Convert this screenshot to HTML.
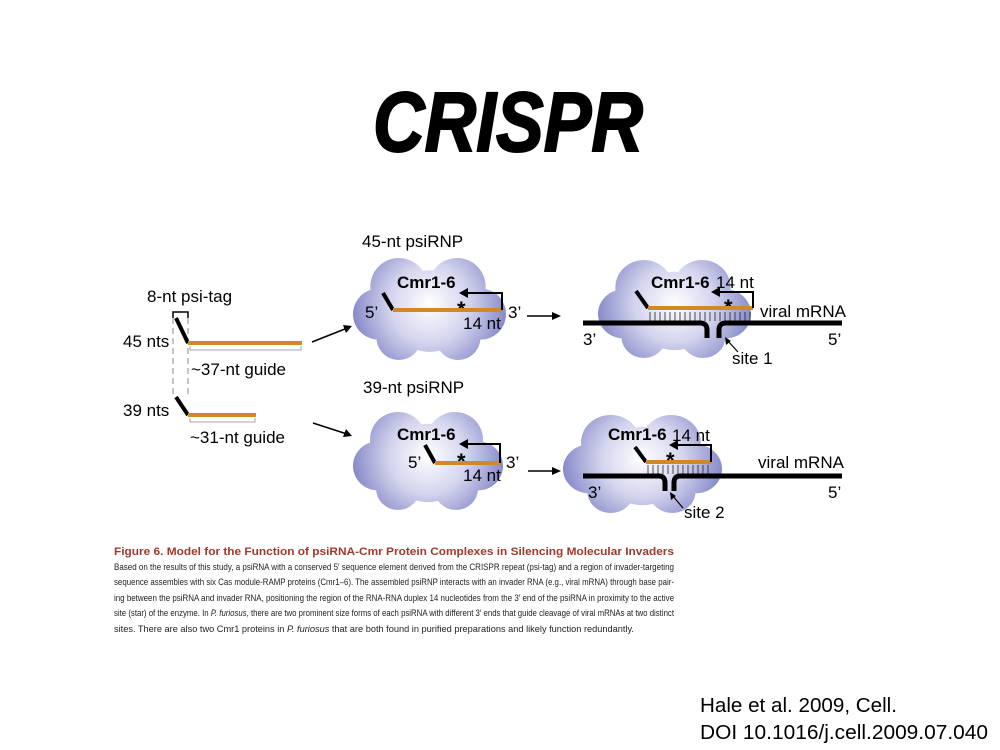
<!DOCTYPE html>
<html><head><meta charset="utf-8"><style>
html,body{margin:0;padding:0;background:#fff;}
svg{display:block;}
text{font-family:"Liberation Sans",sans-serif;}
</style></head><body>
<svg width="1000" height="750" viewBox="0 0 1000 750" xmlns="http://www.w3.org/2000/svg">
<defs>
<radialGradient id="cg" gradientUnits="userSpaceOnUse" cx="75" cy="45" r="85">
<stop offset="0" stop-color="#ffffff"/><stop offset="0.45" stop-color="#d4d5ee"/><stop offset="1" stop-color="#7478c0"/>
</radialGradient>
<g id="cloud">
<circle cx="45" cy="28" r="28"/><circle cx="102" cy="28" r="28"/><circle cx="25" cy="55" r="25"/><circle cx="125" cy="55" r="25"/><circle cx="45" cy="78" r="22"/><circle cx="103" cy="78" r="22"/><circle cx="75" cy="52" r="40"/>
</g>
</defs>
<rect width="1000" height="750" fill="#fff"/>
<text x="373" y="151" font-size="84" font-weight="bold" font-style="italic" textLength="270" lengthAdjust="spacingAndGlyphs" stroke="#000" stroke-width="2">CRISPR</text>

<!-- clouds -->
<g fill="url(#cg)">
<use href="#cloud" transform="translate(353,258) scale(1.02,1.02)"/>
<use href="#cloud" transform="translate(598,260) scale(1.02,0.98)"/>
<use href="#cloud" transform="translate(353,412) scale(1.0,0.98)"/>
<use href="#cloud" transform="translate(563,415) scale(1.06,0.98)"/>
</g>

<!-- left part -->
<g font-size="17">
<text x="147" y="302">8-nt psi-tag</text>
<text x="123" y="347">45 nts</text>
<text x="191" y="375">~37-nt guide</text>
<text x="123" y="416">39 nts</text>
<text x="190" y="443">~31-nt guide</text>
</g>
<path d="M173 318 V312 H188 V318" fill="none" stroke="#000" stroke-width="1.5"/>
<path d="M173 318 V397 M188 318 V397" stroke="#888" stroke-width="1" stroke-dasharray="6,4"/>
<path d="M176 318 L188 343 M176 397 L188 415" stroke="#000" stroke-width="4"/>
<path d="M188 343 H302 M188 415 H256" stroke="#d08a24" stroke-width="4"/>
<path d="M190 346 V350 H301 V346 M190 418 V422 H255 V418" fill="none" stroke="#aaa" stroke-width="1"/>
<path d="M312 342 L350 327 M313 423 L350 435" stroke="#000" stroke-width="1.5"/>
<path d="M352 326 L343 325 L346 333 Z M352 436 L346 429 L343 437 Z" fill="#000"/>

<!-- cloud 1 -->
<text x="362" y="247" font-size="17">45-nt psiRNP</text>
<text x="397" y="288" font-size="17" font-weight="bold">Cmr1-6</text>
<text x="365" y="318" font-size="17">5’</text>
<text x="508" y="318" font-size="17">3’</text>
<text x="463" y="329" font-size="17">14 nt</text>
<text x="457" y="317" font-size="22" font-weight="bold">*</text>
<path d="M383 293 L393 310" stroke="#000" stroke-width="4"/>
<path d="M393 310 H502" stroke="#d08a24" stroke-width="4"/>
<path d="M502 310 V293 H466" fill="none" stroke="#000" stroke-width="2"/>
<path d="M459 293 L468 288 L468 298 Z" fill="#000"/>
<path d="M527 316 H553" stroke="#000" stroke-width="1.5"/><path d="M561 316 L552 312 L552 320 Z" fill="#000"/>

<!-- cloud 2 -->
<path d="M650 312 V321 M655 312 V321 M660 312 V321 M665 312 V321 M670 312 V321 M675 312 V321 M680 312 V321 M685 312 V321 M690 312 V321 M695 312 V321 M700 312 V321 M705 312 V321 M710 312 V321 M715 312 V321 M720 312 V321 M725 312 V321 M730 312 V321 M735 312 V321 M740 312 V321 M745 312 V321 M750 312 V321" stroke="#222" stroke-width="0.8"/>
<text x="651" y="288" font-size="17" font-weight="bold">Cmr1-6</text>
<text x="716" y="288" font-size="17">14 nt</text>
<text x="724" y="315" font-size="22" font-weight="bold">*</text>
<text x="760" y="317" font-size="17">viral mRNA</text>
<text x="583" y="345" font-size="17">3’</text>
<text x="828" y="345" font-size="17">5’</text>
<text x="732" y="364" font-size="17">site 1</text>
<path d="M636 291 L648 308" stroke="#000" stroke-width="4"/>
<path d="M648 308 H753" stroke="#d08a24" stroke-width="4"/>
<path d="M753 308 V292 H718" fill="none" stroke="#000" stroke-width="2"/>
<path d="M711 292 L720 287 L720 297 Z" fill="#000"/>
<path d="M583 323 H700 Q707 323 707 330 V338 M842 323 H726 Q719 323 719 330 V338" fill="none" stroke="#000" stroke-width="5"/>
<path d="M738 352 L727 340" stroke="#000" stroke-width="1.2"/><path d="M725 337 L726 345 L731 341 Z" fill="#000"/>

<!-- cloud 3 -->
<text x="363" y="393" font-size="17">39-nt psiRNP</text>
<text x="397" y="440" font-size="17" font-weight="bold">Cmr1-6</text>
<text x="408" y="468" font-size="17">5’</text>
<text x="506" y="468" font-size="17">3’</text>
<text x="463" y="481" font-size="17">14 nt</text>
<text x="457" y="469" font-size="22" font-weight="bold">*</text>
<path d="M425 445 L435 463" stroke="#000" stroke-width="4"/>
<path d="M435 463 H500" stroke="#d08a24" stroke-width="4"/>
<path d="M500 463 V444 H466" fill="none" stroke="#000" stroke-width="2"/>
<path d="M459 444 L468 439 L468 449 Z" fill="#000"/>
<path d="M528 471 H553" stroke="#000" stroke-width="1.5"/><path d="M561 471 L552 467 L552 475 Z" fill="#000"/>

<!-- cloud 4 -->
<path d="M648 465 V474 M653 465 V474 M658 465 V474 M663 465 V474 M668 465 V474 M673 465 V474 M678 465 V474 M683 465 V474 M688 465 V474 M693 465 V474 M698 465 V474 M703 465 V474 M708 465 V474" stroke="#222" stroke-width="0.8"/>
<text x="608" y="440" font-size="17" font-weight="bold">Cmr1-6</text>
<text x="672" y="441" font-size="17">14 nt</text>
<text x="666" y="468" font-size="22" font-weight="bold">*</text>
<text x="758" y="468" font-size="17">viral mRNA</text>
<text x="588" y="498" font-size="17">3’</text>
<text x="828" y="498" font-size="17">5’</text>
<text x="684" y="518" font-size="17">site 2</text>
<path d="M635 447 L646 462" stroke="#000" stroke-width="4"/>
<path d="M646 462 H711" stroke="#d08a24" stroke-width="4"/>
<path d="M711 462 V445 H676" fill="none" stroke="#000" stroke-width="2"/>
<path d="M669 445 L678 440 L678 450 Z" fill="#000"/>
<path d="M583 476 H659 Q665 476 665 483 V491 M842 476 H680 Q674 476 674 483 V491" fill="none" stroke="#000" stroke-width="5"/>
<path d="M683 508 L672 495" stroke="#000" stroke-width="1.2"/><path d="M670 492 L671 500 L676 496 Z" fill="#000"/>

<!-- caption -->
<text x="114" y="555" font-size="11" font-weight="bold" fill="#a0392d" textLength="560" lengthAdjust="spacingAndGlyphs">Figure 6.  Model for the Function of psiRNA-Cmr Protein Complexes in Silencing Molecular Invaders</text>
<g font-size="9.6" fill="#222">
<text x="114" y="570" textLength="560" lengthAdjust="spacingAndGlyphs">Based on the results of this study, a psiRNA with a conserved 5′ sequence element derived from the CRISPR repeat (psi-tag) and a region of invader-targeting</text>
<text x="114" y="585" textLength="560" lengthAdjust="spacingAndGlyphs">sequence assembles with six Cas module-RAMP proteins (Cmr1–6). The assembled psiRNP interacts with an invader RNA (e.g., viral mRNA) through base pair-</text>
<text x="114" y="601" textLength="560" lengthAdjust="spacingAndGlyphs">ing between the psiRNA and invader RNA, positioning the region of the RNA-RNA duplex 14 nucleotides from the 3′ end of the psiRNA in proximity to the active</text>
<text x="114" y="616" textLength="560" lengthAdjust="spacingAndGlyphs">site (star) of the enzyme. In <tspan font-style="italic">P. furiosus</tspan>, there are two prominent size forms of each psiRNA with different 3′ ends that guide cleavage of viral mRNAs at two distinct</text>
<text x="114" y="632" textLength="520" lengthAdjust="spacingAndGlyphs">sites. There are also two Cmr1 proteins in <tspan font-style="italic">P. furiosus</tspan> that are both found in purified preparations and likely function redundantly.</text>
</g>

<text x="700" y="712" font-size="20" textLength="197" lengthAdjust="spacingAndGlyphs">Hale et al. 2009, Cell.</text>
<text x="700" y="739" font-size="20" textLength="288" lengthAdjust="spacingAndGlyphs">DOI 10.1016/j.cell.2009.07.040</text>
</svg>
</body></html>
